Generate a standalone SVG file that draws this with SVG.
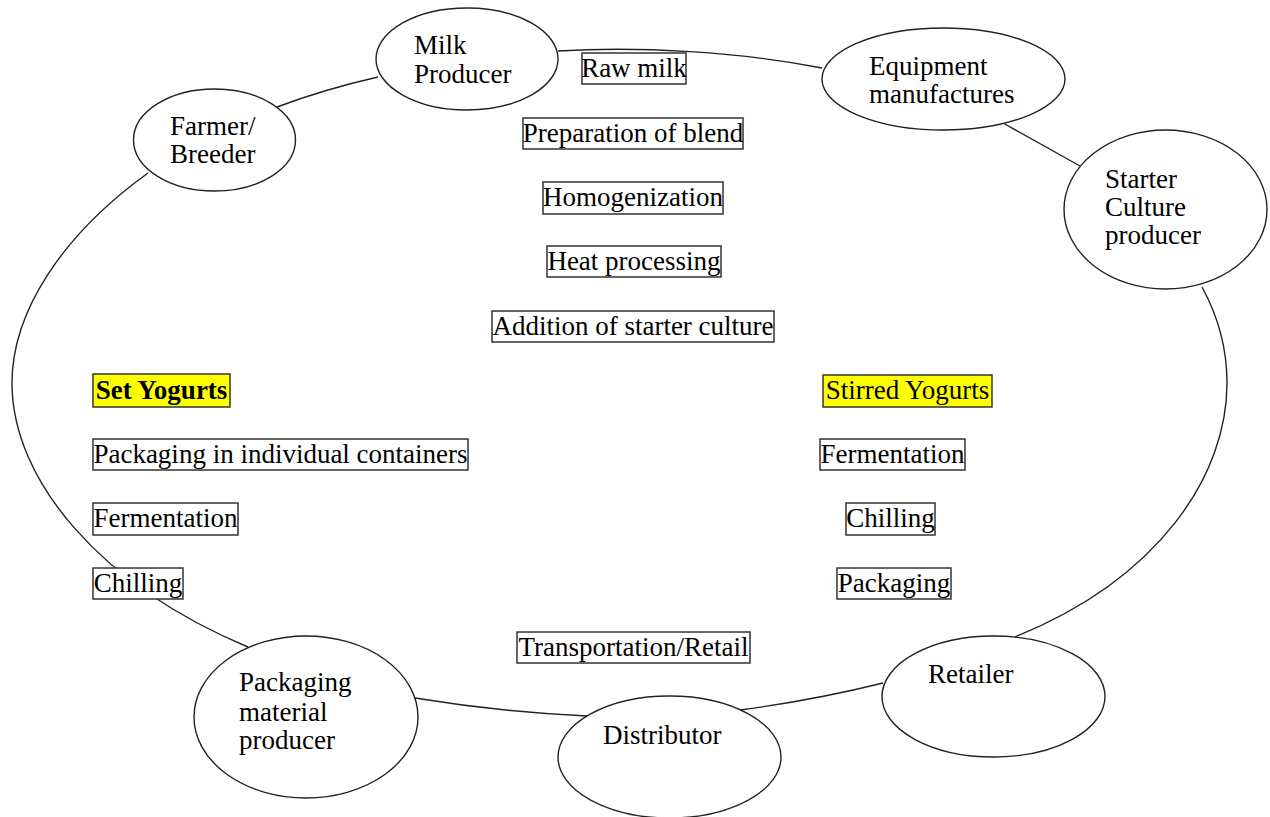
<svg xmlns="http://www.w3.org/2000/svg" width="1270" height="817" viewBox="0 0 1270 817">
  <style>
    .node ellipse { fill: #ffffff; stroke: #222222; stroke-width: 1.4; }
    .label { font-family: "Liberation Serif", "Times New Roman", serif; font-size: 27px; fill: #000000; }
    .step rect { fill: #ffffff; stroke: #333333; stroke-width: 1.5; }
    .step.hl rect { fill: #ffff00; }
    .step text { font-family: "Liberation Serif", "Times New Roman", serif; font-size: 27px; fill: #000000; text-anchor: middle; }
    .bold { font-weight: bold; }
    #connectors path { fill: none; stroke: #222222; stroke-width: 1.4; }
  </style>
  <rect width="1270" height="817" fill="#ffffff"/>

  <!-- ring of connectors between the supply-chain actors -->
  <g id="connectors">
    <path d="M 277,107 Q 325,89 378,77"/>
    <path d="M 558,51 C 640,46 740,52 822,68"/>
    <path d="M 1003,123 L 1080,166"/>
    <path d="M 1202,287 C 1219,318 1227,350 1227,383 C 1227,475 1160,578 1015,637"/>
    <path d="M 883,683 Q 815,700 740,710"/>
    <path d="M 587,716 Q 500,712 415,698"/>
    <path d="M 248,647 C 100,585 12,480 12,383 C 12,312 62,235 148,173"/>
  </g>

  <!-- actors -->
  <g id="milk-producer" class="node">
    <ellipse cx="467" cy="59" rx="91" ry="51"/>
    <text class="label" x="414" y="54">Milk</text>
    <text class="label" x="414" y="83">Producer</text>
  </g>
  <g id="farmer-breeder" class="node">
    <ellipse cx="214.5" cy="140" rx="81" ry="51"/>
    <text class="label" x="170" y="135">Farmer/</text>
    <text class="label" x="170" y="163">Breeder</text>
  </g>
  <g id="equipment-manufactures" class="node">
    <ellipse cx="943.5" cy="79" rx="121.5" ry="51"/>
    <text class="label" x="869" y="75">Equipment</text>
    <text class="label" x="869" y="103">manufactures</text>
  </g>
  <g id="starter-culture-producer" class="node">
    <ellipse cx="1165.5" cy="209.5" rx="101.5" ry="79.5"/>
    <text class="label" x="1105" y="188">Starter</text>
    <text class="label" x="1105" y="216">Culture</text>
    <text class="label" x="1105" y="244">producer</text>
  </g>
  <g id="retailer" class="node">
    <ellipse cx="993.5" cy="696.5" rx="111.5" ry="60.5"/>
    <text class="label" x="928" y="683">Retailer</text>
  </g>
  <g id="distributor" class="node">
    <ellipse cx="669.5" cy="757" rx="111.5" ry="61"/>
    <text class="label" x="603" y="744">Distributor</text>
  </g>
  <g id="packaging-material-producer" class="node">
    <ellipse cx="306" cy="717" rx="112" ry="81"/>
    <text class="label" x="239" y="691">Packaging</text>
    <text class="label" x="239" y="721">material</text>
    <text class="label" x="239" y="749">producer</text>
  </g>

  <!-- common processing steps -->
  <g id="raw-milk" class="step"><rect x="582" y="53" width="104" height="31"/><text x="634" y="77">Raw milk</text></g>
  <g id="preparation-of-blend" class="step"><rect x="523" y="118" width="220" height="31"/><text x="633" y="142">Preparation of blend</text></g>
  <g id="homogenization" class="step"><rect x="543" y="182" width="180" height="32"/><text x="633" y="206">Homogenization</text></g>
  <g id="heat-processing" class="step"><rect x="547" y="246" width="174" height="31"/><text x="634" y="270">Heat processing</text></g>
  <g id="addition-of-starter-culture" class="step"><rect x="492" y="311" width="282" height="31"/><text x="633" y="335">Addition of starter culture</text></g>

  <!-- set yogurt branch -->
  <g id="set-yogurts" class="step hl"><rect x="93" y="374" width="137" height="33"/><text class="bold" x="161.5" y="399">Set Yogurts</text></g>
  <g id="set-packaging" class="step"><rect x="93" y="439" width="375" height="31"/><text x="280.5" y="463">Packaging in individual containers</text></g>
  <g id="set-fermentation" class="step"><rect x="93" y="503" width="145" height="32"/><text x="165.5" y="527">Fermentation</text></g>
  <g id="set-chilling" class="step"><rect x="93" y="568" width="90" height="31"/><text x="138" y="592">Chilling</text></g>

  <!-- stirred yogurt branch -->
  <g id="stirred-yogurts" class="step hl"><rect x="823" y="375" width="169" height="32"/><text x="907.5" y="399">Stirred Yogurts</text></g>
  <g id="stirred-fermentation" class="step"><rect x="820" y="439" width="145" height="31"/><text x="892.5" y="463">Fermentation</text></g>
  <g id="stirred-chilling" class="step"><rect x="846" y="503" width="89" height="32"/><text x="890.5" y="527">Chilling</text></g>
  <g id="stirred-packaging" class="step"><rect x="837" y="568" width="114" height="31"/><text x="894" y="592">Packaging</text></g>

  <g id="transportation-retail" class="step"><rect x="517" y="632" width="233" height="31"/><text x="633.5" y="656">Transportation/Retail</text></g>
</svg>
